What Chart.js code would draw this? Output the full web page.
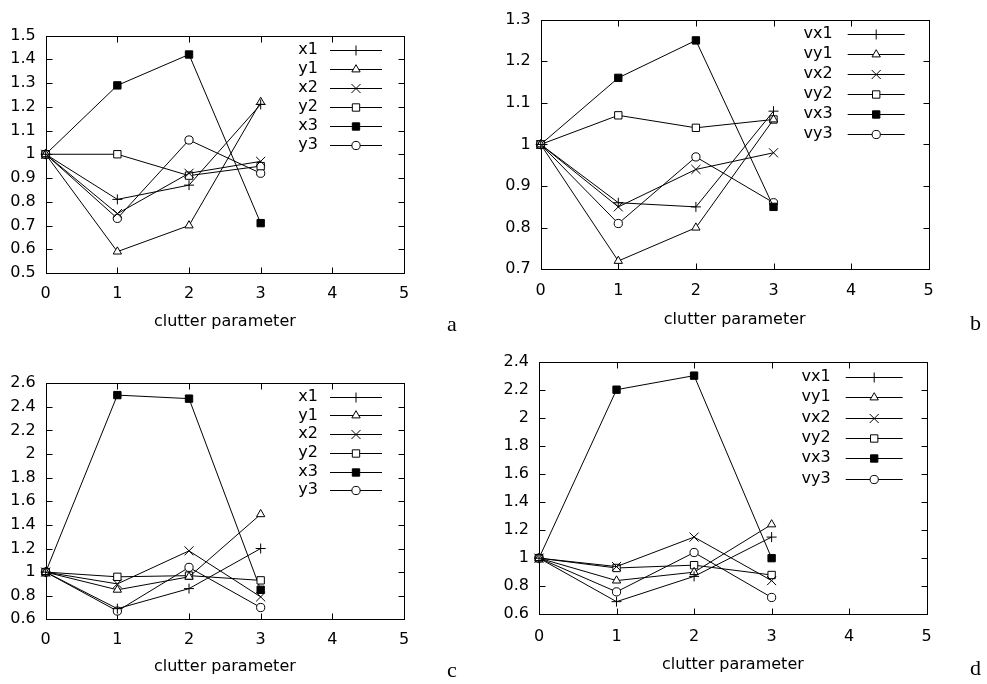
<!DOCTYPE html>
<html>
<head>
<meta charset="utf-8">
<script src="https://cdn.jsdelivr.net/npm/chart.js@4/dist/chart.umd.min.js"></script>
<style>
  html, body { margin: 0; padding: 0; background: #fff; }
  body { width: 987px; height: 684px; position: relative; overflow: hidden; }
  canvas { position: absolute; }
</style>
</head>
<body>
<canvas id="pa" width="460" height="340" style="left:0px;top:0px"></canvas>
<canvas id="pb" width="497" height="340" style="left:490px;top:0px"></canvas>
<canvas id="pc" width="460" height="342" style="left:0px;top:342px"></canvas>
<canvas id="pd" width="497" height="342" style="left:490px;top:342px"></canvas>
<script>
// clutter parameter values shared by every panel
const clutter = [0, 1, 2, 3];

// panel a: position errors
const aX1 = [1, 0.81, 0.87, 1.21];
const aY1 = [1, 0.59, 0.70, 1.22];
const aX2 = [1, 0.75, 0.92, 0.97];
const aY2 = [1, 1.00, 0.91, 0.95];
const aX3 = [1, 1.29, 1.42, 0.71];
const aY3 = [1, 0.73, 1.06, 0.92];

// panel b: velocity errors
const bVX1 = [1, 0.86, 0.85, 1.08];
const bVY1 = [1, 0.72, 0.80, 1.06];
const bVX2 = [1, 0.85, 0.94, 0.98];
const bVY2 = [1, 1.07, 1.04, 1.06];
const bVX3 = [1, 1.16, 1.25, 0.85];
const bVY3 = [1, 0.81, 0.97, 0.86];

// panel c: position errors
const cX1 = [1, 0.69, 0.86, 1.20];
const cY1 = [1, 0.85, 0.96, 1.49];
const cX2 = [1, 0.90, 1.18, 0.79];
const cY2 = [1, 0.96, 0.97, 0.93];
const cX3 = [1, 2.50, 2.47, 0.85];
const cY3 = [1, 0.67, 1.04, 0.70];

// panel d: velocity errors
const dVX1 = [1, 0.69, 0.87, 1.15];
const dVY1 = [1, 0.84, 0.90, 1.24];
const dVX2 = [1, 0.94, 1.15, 0.84];
const dVY2 = [1, 0.93, 0.95, 0.88];
const dVX3 = [1, 2.20, 2.30, 1.00];
const dVY3 = [1, 0.76, 1.04, 0.72];

// series names
const posLabels = ['x1', 'y1', 'x2', 'y2', 'x3', 'y3'];
const velLabels = ['vx1', 'vy1', 'vx2', 'vy2', 'vx3', 'vy3'];

// axis ranges and tick steps
const xRange = [0, 5];
const aYRange = [0.5, 1.5], aYStep = 0.1;
const bYRange = [0.7, 1.3], bYStep = 0.1;
const cYRange = [0.6, 2.6], cYStep = 0.2;
const dYRange = [0.6, 2.4], dYStep = 0.2;

// marker per series: +, open triangle, x, open square, filled square, open circle
const markers = [
  { style: 'cross',    radius: 5,   fill: '#000' },
  { style: 'triangle', radius: 4.8, fill: '#fff' },
  { style: 'crossRot', radius: 6.4, fill: '#000' },
  { style: 'rect',     radius: 5.2, fill: '#fff' },
  { style: 'rect',     radius: 5.2, fill: '#000' },
  { style: 'circle',   radius: 4.1, fill: '#fff' }
];

const FONT = 'DejaVu Sans';

function drawMarker(ctx, m, x, y) {
  if (Chart.helpers && Chart.helpers.drawPoint) {
    ctx.save();
    ctx.fillStyle = m.fill;
    ctx.strokeStyle = '#000';
    ctx.lineWidth = 1;
    Chart.helpers.drawPoint(ctx, { pointStyle: m.style, radius: m.radius, rotation: 0, borderWidth: 1 }, x, y);
    ctx.restore();
  }
}

// frame with inward tick marks, key and panel letter
const framePlugin = {
  id: 'frameKey',
  beforeDatasetsDraw(chart) {
    const { ctx, chartArea: ca, scales } = chart;
    const L = Math.round(ca.left) + 0.5, R = Math.round(ca.right) + 0.5;
    const T = Math.round(ca.top) + 0.5, B = Math.round(ca.bottom) + 0.5;
    const tl = 6;
    ctx.save();
    ctx.strokeStyle = '#000';
    ctx.lineWidth = 1;
    ctx.strokeRect(L, T, R - L, B - T);
    ctx.beginPath();
    scales.x.ticks.forEach(t => {
      const px = Math.round(scales.x.getPixelForValue(t.value)) + 0.5;
      ctx.moveTo(px, B); ctx.lineTo(px, B - tl);
      ctx.moveTo(px, T); ctx.lineTo(px, T + tl);
    });
    scales.y.ticks.forEach(t => {
      const py = Math.round(scales.y.getPixelForValue(t.value)) + 0.5;
      ctx.moveTo(L, py); ctx.lineTo(L + tl, py);
      ctx.moveTo(R, py); ctx.lineTo(R - tl, py);
    });
    ctx.stroke();
    ctx.restore();
  },
  afterDraw(chart, args, opts) {
    const { ctx, chartArea: ca } = chart;
    const k = opts.key;
    ctx.save();
    ctx.font = '16px "' + FONT + '"';
    ctx.fillStyle = '#000';
    ctx.strokeStyle = '#000';
    ctx.lineWidth = 1;
    chart.data.datasets.forEach((ds, i) => {
      const y = ca.top + k.top + i * k.gap;
      ctx.textAlign = 'right';
      ctx.textBaseline = 'middle';
      ctx.fillText(ds.label, ca.right - k.text, y);
      const x0 = ca.right - k.lineStart, x1 = ca.right - k.lineEnd;
      const yy = Math.round(y) + 0.5;
      ctx.beginPath();
      ctx.moveTo(x0, yy); ctx.lineTo(x1, yy);
      ctx.stroke();
      drawMarker(ctx, markers[i], (x0 + x1) / 2, yy);
    });
    ctx.font = '22px "Liberation Serif"';
    ctx.textAlign = 'left';
    ctx.textBaseline = 'alphabetic';
    ctx.fillText(opts.letter, opts.letterX, opts.letterY);
    ctx.restore();
  }
};

function makeDatasets(labels, series) {
  return series.map((vals, i) => ({
    label: labels[i],
    data: clutter.map((c, j) => ({ x: c, y: vals[j] })),
    borderColor: '#000',
    borderWidth: 1,
    tension: 0,
    showLine: true,
    fill: false,
    clip: false,
    pointStyle: markers[i].style,
    pointRadius: markers[i].radius,
    pointHoverRadius: markers[i].radius,
    pointBorderWidth: 1,
    pointBorderColor: '#000',
    pointBackgroundColor: markers[i].fill
  }));
}

function makePanel(id, labels, series, yRange, yStep, lay) {
  const tickFont = { family: FONT, size: 16 };
  return new Chart(document.getElementById(id), {
    type: 'scatter',
    data: { datasets: makeDatasets(labels, series) },
    options: {
      responsive: false,
      animation: false,
      events: [],
      layout: { padding: { top: lay.padTop, right: lay.padRight, bottom: 0, left: 0 } },
      plugins: {
        legend: { display: false },
        tooltip: { enabled: false },
        frameKey: { key: lay.key, letter: lay.letter, letterX: lay.letterX, letterY: lay.letterY }
      },
      scales: {
        x: {
          type: 'linear',
          min: xRange[0], max: xRange[1],
          grid: { display: false, drawTicks: false },
          border: { display: false },
          ticks: { stepSize: 1, color: '#000', font: tickFont, padding: lay.xTickPad, maxRotation: 0 },
          title: {
            display: true, text: 'clutter parameter', color: '#000',
            font: { family: FONT, size: 16 }, padding: { top: 0, bottom: lay.titlePad }
          },
          afterFit(scale) { scale.height = lay.xH; }
        },
        y: {
          type: 'linear',
          min: yRange[0], max: yRange[1],
          grid: { display: false, drawTicks: false },
          border: { display: false },
          ticks: {
            stepSize: yStep, color: '#000', font: tickFont, padding: 10,
            callback: v => String(Math.round(v * 10) / 10)
          },
          afterFit(scale) { scale.width = lay.yW; }
        }
      }
    },
    plugins: [framePlugin]
  });
}

const keyAC = { text: 86, lineStart: 74, lineEnd: 22 };
const keyBD = { text: 96, lineStart: 81, lineEnd: 24 };

makePanel('pa', posLabels, [aX1, aY1, aX2, aY2, aX3, aY3], aYRange, aYStep, {
  padTop: 35.5, padRight: 56, yW: 45.7, xH: 67, titlePad: 8.4, xTickPad: 11,
  key: Object.assign({ top: 14, gap: 19 }, keyAC), letter: 'a', letterX: 447, letterY: 331
});
makePanel('pb', velLabels, [bVX1, bVY1, bVX2, bVY2, bVX3, bVY3], bYRange, bYStep, {
  padTop: 10.7, padRight: 58.3, yW: 50.7, xH: 70.7, titlePad: 10.4, xTickPad: 12,
  key: Object.assign({ top: 14.3, gap: 20 }, keyBD), letter: 'b', letterX: 480, letterY: 330
});
makePanel('pc', posLabels, [cX1, cY1, cX2, cY2, cX3, cY3], cYRange, cYStep, {
  padTop: 41.3, padRight: 56, yW: 45.7, xH: 64.7, titlePad: 7.7, xTickPad: 11,
  key: Object.assign({ top: 13.4, gap: 18.7 }, keyAC), letter: 'c', letterX: 447, letterY: 335
});
makePanel('pd', velLabels, [dVX1, dVY1, dVX2, dVY2, dVX3, dVY3], dYRange, dYStep, {
  padTop: 15.3, padRight: 60.3, yW: 49, xH: 69.7, titlePad: 9.4, xTickPad: 13,
  key: Object.assign({ top: 15.4, gap: 20.3 }, keyBD), letter: 'd', letterX: 480, letterY: 333
});
</script>
</body>
</html>
